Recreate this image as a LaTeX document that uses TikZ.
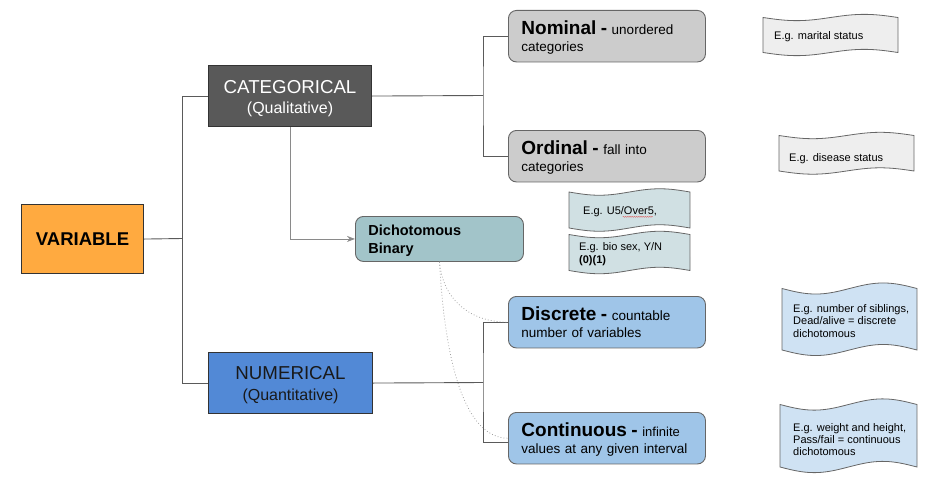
\documentclass[tikz,border=0pt]{standalone}
\usepackage{fontspec}
\setmainfont{Liberation Sans}
\usetikzlibrary{arrows.meta,decorations.pathmorphing}
\definecolor{varorange}{HTML}{FFAA40}
\definecolor{catgray}{HTML}{595959}
\definecolor{numblue}{HTML}{5289D6}
\definecolor{dichteal}{HTML}{A2C4C9}
\definecolor{nomgray}{HTML}{CCCCCC}
\definecolor{discblue}{HTML}{9FC5E8}
\definecolor{tapeA}{HTML}{EEEEEE}
\definecolor{tapeB}{HTML}{D0E0E3}
\definecolor{tapeC}{HTML}{CFE2F3}
\definecolor{boxline}{HTML}{666666}
\definecolor{darkline}{HTML}{333333}
\definecolor{treeline}{HTML}{5A5A5A}
\definecolor{arrowgray}{HTML}{8A8A8A}
\definecolor{dotgray}{HTML}{A0A0A0}
\definecolor{spellred}{HTML}{E06060}
\newcommand{\ttl}{\fontsize{19}{17}\bfseries\selectfont}
\newcommand{\wavebox}[5]{%
  \pgfmathsetmacro{\wamp}{0.09*(#4-#2)}%
  \filldraw[draw=boxline, line width=0.8pt, fill=#5]
    plot[domain=0:1, samples=40] ({#1+\x*(#3-#1)},{#2+\wamp*sin(360*\x)})
    -- plot[domain=0:1, samples=40] ({#3-\x*(#3-#1)},{#4-\wamp*sin(360*\x)})
    -- cycle;}
\begin{document}
\begin{tikzpicture}[x=1pt, y=-1pt,
  box/.style={draw=boxline, line width=0.9pt, rounded corners=8pt,
    minimum width=197pt, minimum height=51.5pt, text width=171pt,
    inner xsep=13pt, inner ysep=0pt, align=left, anchor=north west,
    font=\fontsize{13.5}{17}\selectfont},
  mainbox/.style={draw=darkline, line width=1.1pt, anchor=north west,
    minimum height=61pt, text width=150pt, align=center, inner ysep=0pt},
  tree/.style={draw=treeline, line width=0.9pt},
  arrowline/.style={draw=arrowgray, line width=0.9pt,
    -{Stealth[length=8pt, width=6pt]}},
  dotline/.style={draw=dotgray, line width=0.8pt,
    dash pattern=on 0.8pt off 2.2pt},
  tapetext/.style={anchor=north west, inner sep=0pt, align=left,
    font=\fontsize{11}{12.5}\selectfont},
  spell/.style={draw=spellred, line width=0.4pt, decorate,
    decoration={snake, amplitude=0.5pt, segment length=2.2pt}}
]
\useasboundingbox (0,0) rectangle (944,487);

% main boxes
\node[draw=darkline, line width=1.1pt, fill=varorange, anchor=north west,
  minimum width=122pt, minimum height=69pt,
  font=\fontsize{18.5}{20}\bfseries\selectfont] (var) at (21,204) {VARIABLE};
\node[mainbox, fill=catgray, text=white, minimum width=163pt,
  font=\fontsize{18.7}{20}\selectfont] (cat) at (208,65)
  {\rule{0pt}{18pt}CATEGORICAL\\{\fontsize{16}{20}\selectfont(Qualitative)}\rule[-3.4pt]{0pt}{3.4pt}};
\node[mainbox, fill=numblue, text=black!90, minimum width=164pt,
  font=\fontsize{18.7}{21}\selectfont] (num) at (208,352)
  {\rule{0pt}{18pt}NUMERICAL\\{\fontsize{16}{21}\selectfont(Quantitative)}\rule[-3.4pt]{0pt}{3.4pt}};

% sub boxes
\node[box, fill=nomgray] (nom) at (508,10)
  {\rule{0pt}{17pt}{\ttl Nominal -} unordered\\categories\rule[-3pt]{0pt}{3pt}};
\node[box, fill=nomgray] (ord) at (508,130)
  {\rule{0pt}{17pt}{\ttl Ordinal -} fall into\\categories\rule[-3pt]{0pt}{3pt}};
\node[box, fill=discblue] (disc) at (508,296)
  {\rule{0pt}{17pt}{\ttl Discrete -} countable\\number of variables\rule[-3pt]{0pt}{3pt}};
\node[box, fill=discblue] (cont) at (508,412)
  {\rule{0pt}{17pt}{\ttl Continuous -} {\fontsize{13}{17}\selectfont infinite}\\\mbox{values at any given interval}\rule[-3pt]{0pt}{3pt}};
\node[draw=boxline, line width=0.9pt, rounded corners=8pt, fill=dichteal,
  anchor=north west, minimum width=168pt, minimum height=45pt,
  text width=142pt, inner xsep=13pt, inner ysep=0pt, align=left,
  font=\fontsize{14.5}{18}\bfseries\selectfont] (dich) at (355,216)
  {\rule{0pt}{14pt}Dichotomous\\Binary\rule[-3pt]{0pt}{3pt}};

% connectors
\coordinate (j1) at (182.5,238.5);
\coordinate (j2) at (483,95.5);
\coordinate (j3) at (483,382.5);
\draw[tree] (var.east) -- (j1);
\draw[tree] (cat.west) -| (j1) |- (num.west);
\draw[tree] (cat.east) -- (j2);
\draw[tree] (nom.west) -| (j2) |- (ord.west);
\draw[tree] (num.east) -- (j3);
\draw[tree] (disc.west) -| (j3) |- ([yshift=-4pt]cont.west);
\draw[arrowline] (cat.south) |- (dich.west);
\draw[dotline] (dich.south) .. controls (443,300) and (470,322) .. (disc.west);
\draw[dotline] (dich.south) .. controls (446,380) and (470,438) .. (cont.west);

% tapes
\wavebox{763}{17.5}{898}{52.5}{tapeA}
\wavebox{779}{135.5}{914}{171}{tapeA}
\wavebox{569}{192}{690}{228}{tapeB}
\wavebox{569}{234.5}{690}{270.5}{tapeB}
\wavebox{782}{288.5}{917}{350}{tapeC}
\wavebox{780}{404.5}{917}{467}{tapeC}

\node[tapetext] (e1) at (774,31) {E.g. marital status};
\node[tapetext] (e2) at (789,153) {E.g. disease status};
\node[tapetext] (e3) at (583,206) {E.g. U5/Over5,};
\node[tapetext, font=\fontsize{11}{13}\selectfont] (e4) at (579,242)
  {E.g. bio sex, Y/N\\\textbf{(0)(1)}};
\node[tapetext] (e5) at (793,304)
  {E.g. number of siblings,\\Dead/alive = discrete\\dichotomous};
\node[tapetext, font=\fontsize{11}{12}\selectfont] (e6) at (793,423)
  {E.g. weight and height,\\Pass/fail = continuous\\dichotomous};
\draw[spell] ([xshift=39.7pt, yshift=-10.8pt]e3.north west) -- ++(30,0);
\end{tikzpicture}
\end{document}
